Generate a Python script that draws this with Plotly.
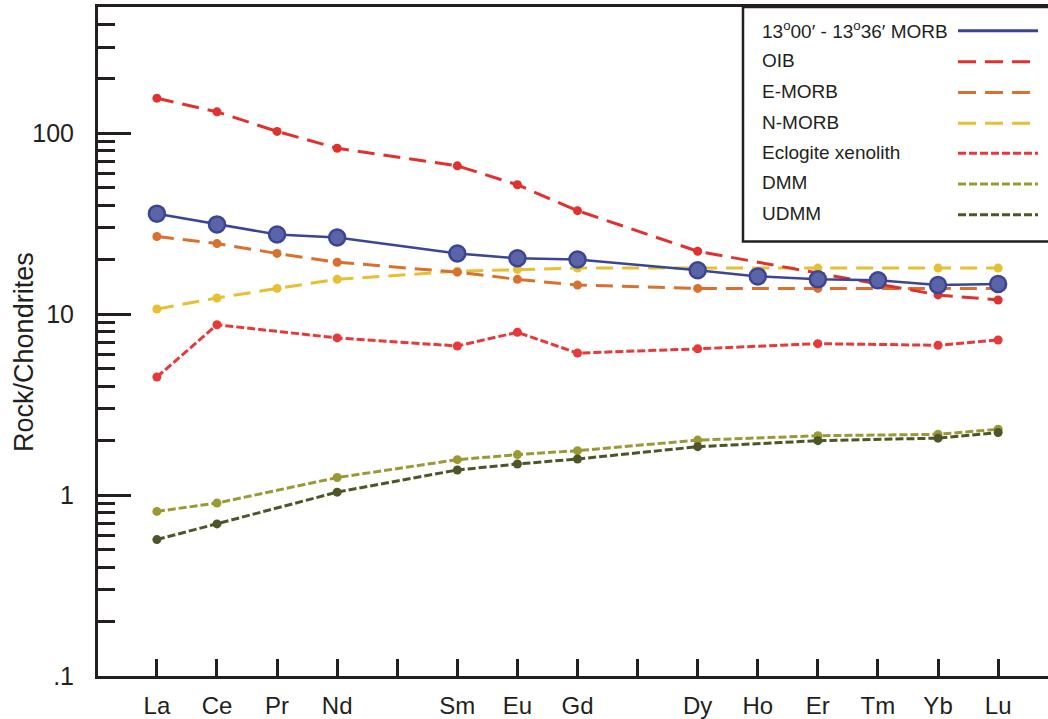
import plotly.graph_objects as go

# ---------------- data (chondrite-normalised REE) ----------------
elements = ["La", "Ce", "Pr", "Nd", "Pm", "Sm", "Eu", "Gd", "Tb",
            "Dy", "Ho", "Er", "Tm", "Yb", "Lu"]
unlabelled = ["Pm", "Tb"]  # tick marks shown without labels

morb = [36.0, 31.4, 27.6, 26.6, None, 21.7, 20.4, 20.1, None,
        17.5, 16.2, 15.6, 15.4, 14.5, 14.7]
oib = [156.6, 131.6, 102.6, 82.8, None, 66.2, 52.0, 37.4, None,
       22.3, None, None, None, 12.8, 12.0]
emorb = [26.9, 24.6, 21.7, 19.4, None, 17.1, 15.6, 14.5, None,
         13.9, None, 13.9, None, 13.9, 13.9]
nmorb = [10.7, 12.3, 13.9, 15.6, None, 17.3, 17.7, 18.0, None,
         18.0, None, 18.0, None, 18.0, 18.0]
eclogite = [4.50, 8.75, None, 7.40, None, 6.68, 7.95, 6.10, None,
            6.44, None, 6.88, None, 6.74, 7.21]
dmm = [0.813, 0.904, None, 1.251, None, 1.571, 1.675, 1.762, None,
       2.015, None, 2.13, None, 2.17, 2.315]
udmm = [0.568, 0.693, None, 1.039, None, 1.378, 1.486, 1.584, None,
        1.853, None, 2.00, None, 2.066, 2.22]

y_tickvals = [0.1, 1, 10, 100]
y_ticktext = [".1", "1", "10", "100"]

# ---------------- styles ----------------
FONT = "Liberation Sans, Arial, sans-serif"
C_MORB_LINE = "#3b4595"
C_MORB_FILL = "#5c64a8"
C_OIB = "#e0312f"
C_EMORB = "#d9702f"
C_NMORB = "#e6c032"
C_ECLO = "#e8393a"
C_DMM = "#9a9a35"
C_UDMM = "#4d5628"
LONG_DASH = "17px,9px"
SHORT_DASH = "8px,3px"

x = list(range(len(elements)))
lab_x = [i for i, e in enumerate(elements) if e not in unlabelled]
lab_t = [e for e in elements if e not in unlabelled]
unlab_x = [i for i, e in enumerate(elements) if e in unlabelled]

series = [
    ("Eclogite xenolith", eclogite, C_ECLO, SHORT_DASH),
    ("DMM", dmm, C_DMM, SHORT_DASH),
    ("UDMM", udmm, C_UDMM, SHORT_DASH),
    ("N-MORB", nmorb, C_NMORB, LONG_DASH),
    ("E-MORB", emorb, C_EMORB, LONG_DASH),
    ("OIB", oib, C_OIB, LONG_DASH),
]

fig = go.Figure()
for name, vals, col, dash in series:
    fig.add_trace(go.Scatter(
        x=x, y=vals, name=name, mode="lines+markers", connectgaps=True,
        line=dict(color=col, width=3, dash=dash),
        marker=dict(color=col, size=9, line=dict(color=col, width=0)),
        showlegend=False))

fig.add_trace(go.Scatter(
    x=x, y=morb, name="13°00′ - 13°36′ MORB", mode="lines+markers",
    connectgaps=True,
    line=dict(color=C_MORB_LINE, width=2.5),
    marker=dict(color=C_MORB_FILL, size=16, line=dict(color=C_MORB_LINE, width=2.5)),
    showlegend=False))

# ---------------- layout ----------------
W, H = 1048, 719
L, R, T, B = 98, 0, 7, 39
pw, ph = W - L - R, H - T - B


def px(xp):
    return (xp - L) / pw


def py(yp):
    return (H - B - yp) / ph


minor_vals = [m * 10 ** e for e in (-1, 0, 1) for m in range(2, 10)] + [200, 300, 400]

fig.update_layout(
    width=W, height=H,
    margin=dict(l=L, r=R, t=T, b=B, pad=0),
    paper_bgcolor="white", plot_bgcolor="white",
    font=dict(family=FONT, color="#231f20"),
    showlegend=False,
    xaxis=dict(
        range=[-0.98, 14.83], tickmode="array", tickvals=lab_x, ticktext=lab_t,
        ticks="inside", ticklen=17, tickwidth=2.5, tickcolor="#231f20",
        minor=dict(tickmode="array", tickvals=unlab_x, ticks="inside",
                   ticklen=17, tickwidth=2.5, tickcolor="#231f20", showgrid=False),
        showline=True, linecolor="#231f20", linewidth=3, mirror=True,
        showgrid=False, zeroline=False,
        tickfont=dict(size=24, family=FONT, color="#231f20"),
        ticklabelstandoff=6,
    ),
    yaxis=dict(
        type="log", range=[-1, 2.69897],
        tickmode="array", tickvals=y_tickvals, ticktext=y_ticktext,
        ticks="inside", ticklen=33, tickwidth=2.5, tickcolor="#231f20",
        minor=dict(tickmode="array", tickvals=minor_vals, ticks="inside",
                   ticklen=17, tickwidth=2.5, tickcolor="#231f20", showgrid=False),
        showline=True, linecolor="#231f20", linewidth=3,
        showgrid=False, zeroline=False,
        tickfont=dict(size=25, family=FONT, color="#231f20"),
        ticklabelstandoff=16,
    ),
)

# y-axis title
fig.add_annotation(
    text="Rock/Chondrites", textangle=-90, xref="paper", yref="paper",
    x=px(24), y=py(354), xanchor="center", yanchor="middle", showarrow=False,
    font=dict(size=27, family=FONT, color="#231f20"))

# ---------------- custom legend (text left, line sample right) ----------------
fig.add_shape(type="rect", xref="paper", yref="paper",
              x0=px(743), x1=px(1052), y0=py(243), y1=py(7),
              line=dict(color="#231f20", width=2.5), fillcolor="white", layer="above")

legend_rows = [
    ("13<sup>o</sup>00′ - 13<sup>o</sup>36′ MORB", C_MORB_LINE, "solid", 1038),
    ("OIB", C_OIB, "18px,9px", 1030),
    ("E-MORB", C_EMORB, "18px,9px", 1030),
    ("N-MORB", C_NMORB, "18px,9px", 1030),
    ("Eclogite xenolith", C_ECLO, "8px,3px", 1038),
    ("DMM", C_DMM, "8px,3px", 1038),
    ("UDMM", C_UDMM, "8px,3px", 1038),
]
row_y = [30, 61, 92, 123, 153, 184, 215]
for (label, col, dash, xend), yy in zip(legend_rows, row_y):
    fig.add_annotation(text=label, xref="paper", yref="paper",
                       x=px(760), y=py(yy), xanchor="left", yanchor="middle",
                       showarrow=False,
                       font=dict(size=19, family=FONT, color="#231f20"))
    fig.add_shape(type="line", xref="paper", yref="paper",
                  x0=px(958), x1=px(xend), y0=py(yy + 1), y1=py(yy + 1),
                  line=dict(color=col, width=3, dash=dash), layer="above")

fig.write_html("out.html",
               config={"displayModeBar": False},
               post_script="document.body.style.margin='0';document.body.style.padding='0';")
